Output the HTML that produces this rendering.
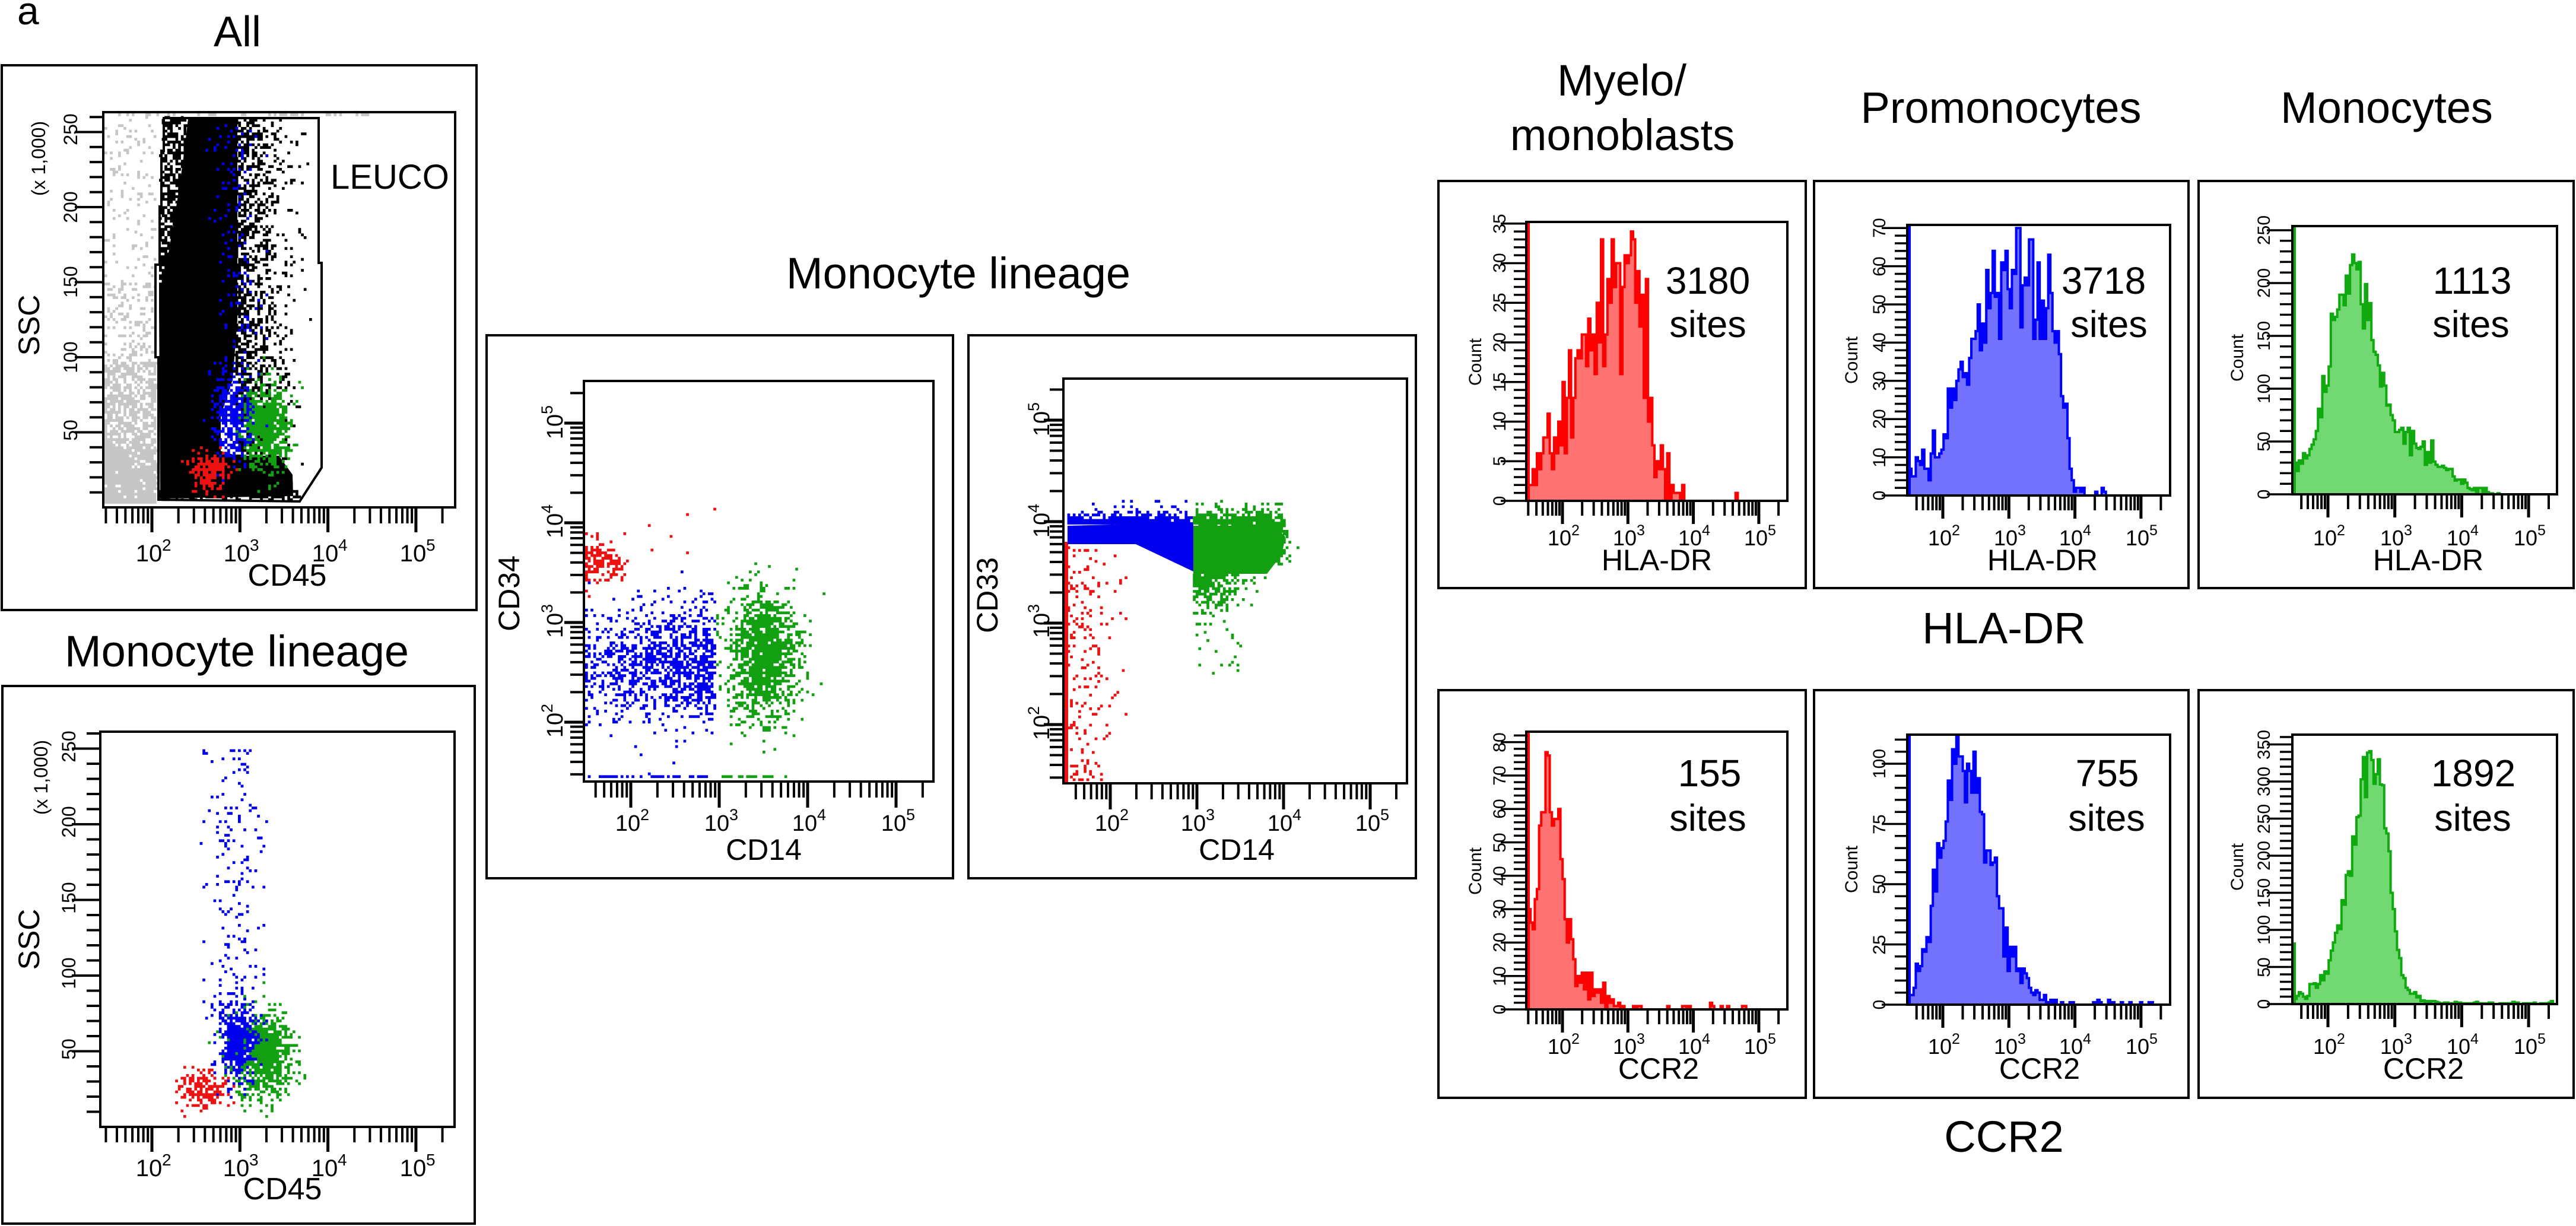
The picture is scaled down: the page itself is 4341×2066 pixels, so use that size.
<!DOCTYPE html>
<html><head><meta charset="utf-8"><title>Flow cytometry figure</title>
<style>
html,body{margin:0;padding:0;background:#fff;width:4341px;height:2066px;overflow:hidden}
svg{display:block}
text{font-family:"Liberation Sans",Arial,sans-serif;fill:#000}
</style></head><body>
<svg id="fig" width="4341" height="2066" viewBox="0 0 4341 2066" xmlns="http://www.w3.org/2000/svg">
<rect width="4341" height="2066" fill="#fff"/>
<g id="data"></g>
<polygon points="276,199 537,199 537,443 542,443 542,788 505,845 267,842 267,602 262,602 262,446 269,446 269,348 272,348 272,254 276,254" fill="none" stroke="#000" stroke-width="4"/>
<g id="ticks" stroke="#000" stroke-width="4" fill="none"></g>
<g fill="none" stroke="#000" stroke-width="4">
 <rect x="3" y="110" width="800" height="918"/>
 <rect x="4" y="1156" width="796" height="906"/>
 <rect x="820" y="565" width="786" height="915"/>
 <rect x="1632" y="565" width="754" height="915"/>
 <rect x="2424" y="305" width="619" height="686"/>
 <rect x="3057" y="305" width="631" height="686"/>
 <rect x="3705" y="305" width="632" height="686"/>
 <rect x="2424" y="1163" width="619" height="687"/>
 <rect x="3057" y="1163" width="631" height="687"/>
 <rect x="3705" y="1163" width="632" height="687"/>
 <rect x="174" y="189" width="593" height="666"/>
 <rect x="169" y="1233" width="597" height="666"/>
 <rect x="984" y="642" width="589" height="675"/>
 <rect x="1792" y="638" width="579" height="682"/>
 <rect x="2572" y="374" width="440" height="470"/>
 <rect x="3214" y="379" width="443" height="456"/>
 <rect x="3863" y="381" width="446" height="452"/>
 <rect x="2572" y="1233" width="440" height="468"/>
 <rect x="3214" y="1238" width="443" height="455"/>
 <rect x="3863" y="1238" width="446" height="454"/>
</g>

<!-- Titles -->
<text x="29" y="41" font-size="66">a</text>
<text x="400" y="78" font-size="72" text-anchor="middle">All</text>
<text x="399" y="1123" font-size="74" text-anchor="middle">Monocyte lineage</text>
<text x="1615" y="486" font-size="74" text-anchor="middle">Monocyte lineage</text>
<text x="2733" y="161" font-size="74" text-anchor="middle">Myelo/</text>
<text x="2734" y="253" font-size="74" text-anchor="middle">monoblasts</text>
<text x="3372" y="207" font-size="74" text-anchor="middle">Promonocytes</text>
<text x="4022" y="207" font-size="74" text-anchor="middle">Monocytes</text>
<text x="3377" y="1084" font-size="74" text-anchor="middle">HLA-DR</text>
<text x="3377" y="1941" font-size="74" text-anchor="middle">CCR2</text>

<!-- All panel labels -->
<text x="557" y="318" font-size="58">LEUCO</text>
<text x="484" y="987" font-size="52" text-anchor="middle">CD45</text>
<text transform="translate(66,548) rotate(-90)" font-size="50" text-anchor="middle">SSC</text>
<text transform="translate(76,267) rotate(-90)" font-size="32" text-anchor="middle">(x 1,000)</text>
<text transform="translate(130,218) rotate(-90)" font-size="32" text-anchor="middle">250</text>
<text transform="translate(130,349) rotate(-90)" font-size="32" text-anchor="middle">200</text>
<text transform="translate(130,475) rotate(-90)" font-size="32" text-anchor="middle">150</text>
<text transform="translate(130,602) rotate(-90)" font-size="32" text-anchor="middle">100</text>
<text transform="translate(130,725) rotate(-90)" font-size="32" text-anchor="middle">50</text>
<text x="251" y="946" font-size="40" text-anchor="middle">10</text><text x="273" y="928" font-size="28">2</text>
<text x="399" y="946" font-size="40" text-anchor="middle">10</text><text x="421" y="928" font-size="28">3</text>
<text x="548" y="946" font-size="40" text-anchor="middle">10</text><text x="570" y="928" font-size="28">4</text>
<text x="696" y="946" font-size="40" text-anchor="middle">10</text><text x="718" y="928" font-size="28">5</text>

<!-- Lower panel labels -->
<text x="476" y="2021" font-size="52" text-anchor="middle">CD45</text>
<text transform="translate(66,1583) rotate(-90)" font-size="50" text-anchor="middle">SSC</text>
<text transform="translate(80,1310) rotate(-90)" font-size="32" text-anchor="middle">(x 1,000)</text>
<text transform="translate(127,1258) rotate(-90)" font-size="32" text-anchor="middle">250</text>
<text transform="translate(127,1385) rotate(-90)" font-size="32" text-anchor="middle">200</text>
<text transform="translate(127,1513) rotate(-90)" font-size="32" text-anchor="middle">150</text>
<text transform="translate(127,1640) rotate(-90)" font-size="32" text-anchor="middle">100</text>
<text transform="translate(127,1768) rotate(-90)" font-size="32" text-anchor="middle">50</text>
<text x="251" y="1982" font-size="40" text-anchor="middle">10</text><text x="273" y="1964" font-size="28">2</text>
<text x="398" y="1982" font-size="40" text-anchor="middle">10</text><text x="420" y="1964" font-size="28">3</text>
<text x="547" y="1982" font-size="40" text-anchor="middle">10</text><text x="569" y="1964" font-size="28">4</text>
<text x="696" y="1982" font-size="40" text-anchor="middle">10</text><text x="718" y="1964" font-size="28">5</text>

<!-- M1 labels -->
<text x="1287" y="1449" font-size="50" text-anchor="middle">CD14</text>
<text transform="translate(875,1000) rotate(-90)" font-size="50" text-anchor="middle">CD34</text>
<g transform="translate(948,1217) rotate(-90)"><text x="-5" font-size="38" text-anchor="middle">10</text><text x="16" y="-17" font-size="27">2</text></g>
<g transform="translate(948,1049) rotate(-90)"><text x="-5" font-size="38" text-anchor="middle">10</text><text x="16" y="-17" font-size="27">3</text></g>
<g transform="translate(948,881) rotate(-90)"><text x="-5" font-size="38" text-anchor="middle">10</text><text x="16" y="-17" font-size="27">4</text></g>
<g transform="translate(948,714) rotate(-90)"><text x="-5" font-size="38" text-anchor="middle">10</text><text x="16" y="-17" font-size="27">5</text></g>
<text x="1058" y="1400" font-size="38" text-anchor="middle">10</text><text x="1079" y="1382" font-size="27">2</text>
<text x="1208" y="1400" font-size="38" text-anchor="middle">10</text><text x="1229" y="1382" font-size="27">3</text>
<text x="1356" y="1400" font-size="38" text-anchor="middle">10</text><text x="1377" y="1382" font-size="27">4</text>
<text x="1506" y="1400" font-size="38" text-anchor="middle">10</text><text x="1527" y="1382" font-size="27">5</text>

<!-- M2 labels -->
<text x="2084" y="1449" font-size="50" text-anchor="middle">CD14</text>
<text transform="translate(1681,1003) rotate(-90)" font-size="50" text-anchor="middle">CD33</text>
<g transform="translate(1768,1221) rotate(-90)"><text x="-5" font-size="38" text-anchor="middle">10</text><text x="16" y="-17" font-size="27">2</text></g>
<g transform="translate(1768,1049) rotate(-90)"><text x="-5" font-size="38" text-anchor="middle">10</text><text x="16" y="-17" font-size="27">3</text></g>
<g transform="translate(1768,880) rotate(-90)"><text x="-5" font-size="38" text-anchor="middle">10</text><text x="16" y="-17" font-size="27">4</text></g>
<g transform="translate(1768,709) rotate(-90)"><text x="-5" font-size="38" text-anchor="middle">10</text><text x="16" y="-17" font-size="27">5</text></g>
<text x="1866" y="1400" font-size="38" text-anchor="middle">10</text><text x="1887" y="1382" font-size="27">2</text>
<text x="2011" y="1400" font-size="38" text-anchor="middle">10</text><text x="2032" y="1382" font-size="27">3</text>
<text x="2157" y="1400" font-size="38" text-anchor="middle">10</text><text x="2178" y="1382" font-size="27">4</text>
<text x="2305" y="1400" font-size="38" text-anchor="middle">10</text><text x="2326" y="1382" font-size="27">5</text>

<!-- Histogram labels: top row -->
<text x="2878" y="495" font-size="64" text-anchor="middle">3180</text>
<text x="2878" y="568" font-size="63" text-anchor="middle">sites</text>
<text x="3545" y="495" font-size="64" text-anchor="middle">3718</text>
<text x="3554" y="568" font-size="63" text-anchor="middle">sites</text>
<text x="4166" y="495" font-size="64" text-anchor="middle">1113</text>
<text x="4164" y="568" font-size="63" text-anchor="middle">sites</text>
<text x="2792" y="961" font-size="50" text-anchor="middle">HLA-DR</text>
<text x="3442" y="961" font-size="50" text-anchor="middle">HLA-DR</text>
<text x="4092" y="961" font-size="50" text-anchor="middle">HLA-DR</text>
<text transform="translate(2496,610) rotate(-90)" font-size="30" text-anchor="middle">Count</text>
<text transform="translate(3130,607) rotate(-90)" font-size="30" text-anchor="middle">Count</text>
<text transform="translate(3780,603) rotate(-90)" font-size="30" text-anchor="middle">Count</text>
<g font-size="36" text-anchor="middle">
<text x="2628" y="919">10</text><text x="2738" y="919">10</text><text x="2848" y="919">10</text><text x="2959" y="919">10</text>
<text x="3269" y="919">10</text><text x="3380" y="919">10</text><text x="3490" y="919">10</text><text x="3602" y="919">10</text>
<text x="3918" y="919">10</text><text x="4031" y="919">10</text><text x="4143" y="919">10</text><text x="4256" y="919">10</text>
<text x="2628" y="1776">10</text><text x="2738" y="1776">10</text><text x="2848" y="1776">10</text><text x="2959" y="1776">10</text>
<text x="3269" y="1776">10</text><text x="3380" y="1776">10</text><text x="3490" y="1776">10</text><text x="3602" y="1776">10</text>
<text x="3918" y="1776">10</text><text x="4031" y="1776">10</text><text x="4143" y="1776">10</text><text x="4256" y="1776">10</text>
</g>
<g font-size="25">
<text x="2648" y="902">2</text><text x="2758" y="902">3</text><text x="2868" y="902">4</text><text x="2979" y="902">5</text>
<text x="3289" y="902">2</text><text x="3400" y="902">3</text><text x="3510" y="902">4</text><text x="3622" y="902">5</text>
<text x="3938" y="902">2</text><text x="4051" y="902">3</text><text x="4163" y="902">4</text><text x="4276" y="902">5</text>
<text x="2648" y="1759">2</text><text x="2758" y="1759">3</text><text x="2868" y="1759">4</text><text x="2979" y="1759">5</text>
<text x="3289" y="1759">2</text><text x="3400" y="1759">3</text><text x="3510" y="1759">4</text><text x="3622" y="1759">5</text>
<text x="3938" y="1759">2</text><text x="4051" y="1759">3</text><text x="4163" y="1759">4</text><text x="4276" y="1759">5</text>
</g>
<g font-size="30" text-anchor="middle">
<text transform="translate(2537,844) rotate(-90)">0</text>
<text transform="translate(2537,777) rotate(-90)">5</text>
<text transform="translate(2537,710) rotate(-90)">10</text>
<text transform="translate(2537,644) rotate(-90)">15</text>
<text transform="translate(2537,577) rotate(-90)">20</text>
<text transform="translate(2537,510) rotate(-90)">25</text>
<text transform="translate(2537,443) rotate(-90)">30</text>
<text transform="translate(2537,377) rotate(-90)">35</text>
<text transform="translate(3177,835) rotate(-90)">0</text>
<text transform="translate(3177,771) rotate(-90)">10</text>
<text transform="translate(3177,706) rotate(-90)">20</text>
<text transform="translate(3177,642) rotate(-90)">30</text>
<text transform="translate(3177,577) rotate(-90)">40</text>
<text transform="translate(3177,513) rotate(-90)">50</text>
<text transform="translate(3177,449) rotate(-90)">60</text>
<text transform="translate(3177,384) rotate(-90)">70</text>
<text transform="translate(3825,833) rotate(-90)">0</text>
<text transform="translate(3825,744) rotate(-90)">50</text>
<text transform="translate(3825,655) rotate(-90)">100</text>
<text transform="translate(3825,566) rotate(-90)">150</text>
<text transform="translate(3825,477) rotate(-90)">200</text>
<text transform="translate(3825,388) rotate(-90)">250</text>
</g>

<!-- Histogram labels: bottom row -->
<text x="2881" y="1325" font-size="64" text-anchor="middle">155</text>
<text x="2878" y="1400" font-size="63" text-anchor="middle">sites</text>
<text x="3551" y="1325" font-size="64" text-anchor="middle">755</text>
<text x="3550" y="1400" font-size="63" text-anchor="middle">sites</text>
<text x="4168" y="1325" font-size="64" text-anchor="middle">1892</text>
<text x="4167" y="1400" font-size="63" text-anchor="middle">sites</text>
<text x="2795" y="1818" font-size="50" text-anchor="middle">CCR2</text>
<text x="3437" y="1818" font-size="50" text-anchor="middle">CCR2</text>
<text x="4084" y="1818" font-size="50" text-anchor="middle">CCR2</text>
<text transform="translate(2496,1468) rotate(-90)" font-size="30" text-anchor="middle">Count</text>
<text transform="translate(3130,1465) rotate(-90)" font-size="30" text-anchor="middle">Count</text>
<text transform="translate(3780,1461) rotate(-90)" font-size="30" text-anchor="middle">Count</text>
<g font-size="30" text-anchor="middle">
<text transform="translate(2537,1701) rotate(-90)">0</text>
<text transform="translate(2537,1645) rotate(-90)">10</text>
<text transform="translate(2537,1588) rotate(-90)">20</text>
<text transform="translate(2537,1532) rotate(-90)">30</text>
<text transform="translate(2537,1476) rotate(-90)">40</text>
<text transform="translate(2537,1420) rotate(-90)">50</text>
<text transform="translate(2537,1363) rotate(-90)">60</text>
<text transform="translate(2537,1307) rotate(-90)">70</text>
<text transform="translate(2537,1251) rotate(-90)">80</text>
<text transform="translate(3177,1693) rotate(-90)">0</text>
<text transform="translate(3177,1592) rotate(-90)">25</text>
<text transform="translate(3177,1490) rotate(-90)">50</text>
<text transform="translate(3177,1389) rotate(-90)">75</text>
<text transform="translate(3177,1287) rotate(-90)">100</text>
<text transform="translate(3825,1692) rotate(-90)">0</text>
<text transform="translate(3825,1630) rotate(-90)">50</text>
<text transform="translate(3825,1567) rotate(-90)">100</text>
<text transform="translate(3825,1505) rotate(-90)">150</text>
<text transform="translate(3825,1442) rotate(-90)">200</text>
<text transform="translate(3825,1380) rotate(-90)">250</text>
<text transform="translate(3825,1317) rotate(-90)">300</text>
<text transform="translate(3825,1255) rotate(-90)">350</text>
</g>
</svg>
<script>
(function(){
var NS="http://www.w3.org/2000/svg";
var D=document.getElementById('data'),T=document.getElementById('ticks');
function el(t,a,p){var e=document.createElementNS(NS,t);for(var k in a)e.setAttribute(k,a[k]);p.appendChild(e);return e;}
var seed=20240611;
function R(){seed|=0;seed=seed+0x6D2B79F5|0;var t=Math.imul(seed^seed>>>15,1|seed);t=t+Math.imul(t^t>>>7,61|t)^t;return((t^t>>>14)>>>0)/4294967296;}
function N(){var u=1-R(),v=R();return Math.sqrt(-2*Math.log(u))*Math.cos(6.2831853*v);}
function U(a,b){return a+(b-a)*R();}
var RED='#ee1111',BLUE='#0000ee',GREEN='#12a012';
var G=4.6;
function L(P,c){return{P:P,c:c,d:[]};}
function add(l,x,y){var P=l.P;
 if(x<P.x0+2)x=P.x0+2;if(x>P.x1-G-2)x=P.x1-G-2;if(y<P.y0+2)y=P.y0+2;if(y>P.y1-G-2)y=P.y1-G-2;
 x=P.x0+2+Math.floor((x-P.x0-2)/G)*G;y=P.y0+2+Math.floor((y-P.y0-2)/G)*G;
 l.d.push('M'+x.toFixed(1)+' '+y.toFixed(1)+'h4.7v4.7h-4.7z');}
function draw(l){el('path',{d:l.d.join(''),fill:l.c},D);}
function poly(p,c){el('polygon',{points:p,fill:c},D);}
var i,x,y,lx;

/* ---------- All panel ---------- */
var PA={x0:174,x1:767,y0:189,y1:855};
function ax(l){return 256+148.3*(l-2);}
function ayA(s){return 855-2.53*s;}
function ayL(s){return 1899-2.55*s;}
var gr=L(PA,'#c6c6c6');
[[1200,0,40],[650,40,97],[150,97,150],[120,150,262]].forEach(function(r){for(var j=0;j<r[0];j++)add(gr,U(176,264),ayA(U(r[1],r[2])));});
for(i=0;i<35;i++)add(gr,U(176,630),190);
draw(gr);
poly('317,200 400,200 400,540 392,640 372,700 372,760 400,768 470,768 493,800 494,836 270,840 268,520 285,420 300,330 310,260','#000');
var bk=L(PA,'#000');
for(i=0;i<1450;i++){x=396+Math.abs(N())*42;if(x<522)add(bk,x,ayA(U(15,258)));}
/* speckle in the upper-left wedge between gate and core */
for(i=0;i<520;i++){y=U(199,530);var xl=276+(y<254?0:(y<348?-4:(y<446?-7:-7)));var xr=317-(y-200)*0.15;x=U(xl,Math.max(xl+6,xr+6));add(bk,x,y);}
for(i=0;i<200;i++)add(bk,U(270,505),U(826,842));
draw(bk);
var gA=L(PA,GREEN),bA=L(PA,BLUE),rA=L(PA,RED);
for(i=0;i<700;i++)add(gA,ax(3.3+0.14*N()),ayA(54+14*N()));
for(i=0;i<350;i++)add(bA,ax(2.93+0.11*N()),ayA(60+15*N()));
for(i=0;i<150;i++)add(bA,ax(2.97+0.14*N()),ayA(U(85,255)));
for(i=0;i<180;i++)add(rA,ax(2.64+0.12*N()),ayA(25+6*N()));
draw(gA);draw(bA);draw(rA);

/* ---------- Lower panel ---------- */
var PL={x0:169,x1:766,y0:1233,y1:1899};
var gL=L(PL,GREEN),bL=L(PL,BLUE),rL=L(PL,RED);
for(i=0;i<800;i++)add(gL,ax(3.27+0.17*N()),ayL(48+14*N()));
for(i=0;i<430;i++)add(bL,ax(2.97+0.11*N()),ayL(57+14*N()));
for(i=0;i<170;i++)add(bL,ax(2.95+0.17*N()),ayL(U(80,250)));
for(i=0;i<180;i++)add(rL,ax(2.6+0.13*N()),ayL(24+6*N()));
draw(gL);draw(bL);draw(rL);

/* ---------- M1: CD14 vs CD34 ---------- */
var P1={x0:984,x1:1573,y0:642,y1:1317};
function x1f(l){return 1063+149*(l-2);} function y1f(l){return 1217-168*(l-2);}
var b1=L(P1,BLUE),g1=L(P1,GREEN),r1=L(P1,RED);
for(i=0;i<1100;i++){lx=R()<0.6?2.94-Math.abs(0.6*N()):U(1.5,2.94);if(lx<1.48)lx=U(1.48,1.55);if(lx>2.94)lx=2.94;add(b1,x1f(lx),y1f(2.6+0.3*N()));}
for(i=0;i<45;i++)add(b1,U(989,1200),1317);
for(i=0;i<1300;i++){lx=3.5+0.2*N();if(lx<2.97)lx=U(2.97,3.05);add(g1,x1f(lx),y1f(2.65+0.33*N()));}
for(i=0;i<25;i++)add(g1,U(1208,1320),1317);
for(i=0;i<170;i++){lx=1.48+Math.abs(0.22*N());if(lx>2.05)continue;add(r1,x1f(lx),y1f(3.6+0.12*N()));}
[[1096,884],[1157,866],[1203,856],[1130,905],[1100,925],[1160,930]].forEach(function(p){add(r1,p[0],p[1]);});
draw(b1);draw(g1);draw(r1);

/* ---------- M2: CD14 vs CD33 ---------- */
var P2={x0:1792,x1:2371,y0:638,y1:1320};
var r2=L(P2,RED),b2=L(P2,BLUE),g2=L(P2,GREEN);
el('rect',{x:1794,y:913,width:6,height:405,fill:RED},D);
for(i=0;i<180;i++){x=1799+Math.abs(N())*38;if(x>1905)continue;add(r2,x,U(921,1316));}
for(i=0;i<8;i++)add(r2,U(1796,1835),1316);
draw(r2);
poly('1799,886 2011,880 2011,963 1914,917 1799,917',BLUE);
for(i=0;i<450;i++)add(b2,U(1799,2006),884-Math.abs(N()*9));
for(i=0;i<22;i++)add(b2,U(1810,2000),U(840,870));
draw(b2);
poly('2011,886 2150,886 2166,905 2160,935 2135,967 2011,967',GREEN);
for(i=0;i<400;i++)add(g2,U(2011,2165),888-Math.abs(N()*15));
for(i=0;i<80;i++)add(g2,2148+Math.abs(N()*12),U(886,950));
for(i=0;i<220;i++){x=2011+Math.abs(N()*45);if(x>2135)continue;add(g2,x,965+Math.abs(N()*32));}
for(i=0;i<20;i++)add(g2,U(2011,2095),U(1000,1140));
draw(g2);

/* ---------- Histograms ---------- */
function interp(env,l){if(l<=env[0][0])return env[0][1];for(var k=1;k<env.length;k++){if(l<=env[k][0]){var a=env[k-1],b=env[k];return a[1]+(b[1]-a[1])*(l-a[0])/(b[0]-a[0]);}}return env[env.length-1][1];}
function pois(m){if(m<=0)return 0;if(m>30)return Math.max(0,Math.round(m+Math.sqrt(m)*N()));var Lm=Math.exp(-m),k=0,p=1;do{k++;p*=R();}while(p>Lm);return k-1;}
function hist(H){var bw=3.6,d='M'+H.x0+' '+H.y1;
 for(var xx=H.x0;xx<H.x1-0.01;xx+=bw){var xr=Math.min(xx+bw,H.x1);var l=2+((xx+xr)/2-H.p2)/H.dec;var c=pois(interp(H.env,l));var yy=H.y1-c*H.sc;if(yy<H.y0+2)yy=H.y0+2;
  d+='L'+xx.toFixed(1)+' '+yy.toFixed(1)+'L'+xr.toFixed(1)+' '+yy.toFixed(1);}
 d+='L'+H.x1+' '+H.y1+'Z';
 el('path',{d:d,fill:H.fill},D);
 el('path',{d:d,fill:'none',stroke:H.line,'stroke-width':4,'stroke-linejoin':'miter'},D);
 el('line',{x1:H.x0+4,y1:H.y1,x2:H.x0+4,y2:H.et,stroke:H.line,'stroke-width':4},D);
}
var RF='#ff7272',BF='#7272ff',GF='#72d872',RL='#ff0000',BLn='#0000ff',GL='#10aa10';
hist({x0:2572,x1:3012,y0:374,y1:844,p2:2633,dec:110.3,sc:13.35,fill:RF,line:RL,et:376,
 env:[[1.44,3],[1.6,5],[1.9,8],[2.2,15],[2.5,21],[2.7,25],[2.9,28],[3.05,29],[3.2,24],[3.3,17],[3.4,10],[3.55,5],[3.7,2],[3.88,0.3],[4.0,0.05],[5.5,0]]});
hist({x0:3214,x1:3657,y0:379,y1:835,p2:3274,dec:111.3,sc:6.44,fill:BF,line:BLn,et:381,
 env:[[1.44,4],[1.75,9],[1.95,14],[2.17,26],[2.3,33],[2.46,42],[2.75,51],[2.97,57],[3.1,57],[3.3,54],[3.5,54],[3.62,50],[3.72,39],[3.82,26],[3.92,11],[4.0,3],[4.1,0.8],[4.5,0.5],[4.6,0]]});
hist({x0:3863,x1:4309,y0:381,y1:833,p2:3923,dec:112.7,sc:1.78,fill:GF,line:GL,et:383,
 env:[[1.45,20],[1.75,40],[1.93,90],[2.1,150],[2.27,200],[2.42,225],[2.55,190],[2.72,135],[2.89,85],[3.05,60],[3.34,48],[3.62,30],[3.9,17],[4.19,5],[4.47,0.5],[4.6,0]]});
hist({x0:2572,x1:3012,y0:1233,y1:1701,p2:2633,dec:110.3,sc:5.63,fill:RF,line:RL,et:1235,
 env:[[1.44,30],[1.55,25],[1.62,42],[1.71,62],[1.79,72],[1.88,60],[1.97,44],[2.08,24],[2.2,11],[2.37,6],[2.66,3.5],[2.9,1],[3.0,0.15],[3.6,0.25],[4.5,0.25],[5.0,0.05],[5.5,0]]});
hist({x0:3214,x1:3657,y0:1238,y1:1693,p2:3274,dec:111.3,sc:4.06,fill:BF,line:BLn,et:1240,
 env:[[1.44,3],[1.52,5],[1.66,17],[1.8,35],[1.95,62],[2.08,86],[2.17,98],[2.3,98],[2.5,90],[2.69,66],[2.83,42],[3.0,22],[3.18,12],[3.35,6],[3.49,3],[3.75,0.5],[5.5,0.3]]});
hist({x0:3863,x1:4309,y0:1238,y1:1692,p2:3923,dec:112.7,sc:1.25,fill:GF,line:GL,et:1588,
 env:[[1.46,12],[1.64,13],[1.81,25],[1.98,45],[2.15,100],[2.27,155],[2.41,240],[2.53,295],[2.64,325],[2.72,335],[2.81,300],[2.92,195],[3.03,80],[3.17,22],[3.34,8],[3.62,2],[4.0,1],[5.5,0.8]]});

/* ---------- Ticks ---------- */
function ln(x1,y1,x2,y2,w){el('line',{x1:x1,y1:y1,x2:x2,y2:y2,'stroke-width':w||4},T);}
function logX(p2,dec,x0,x1,yb,mn,mj){for(var d=0;d<=5;d++)for(var m=1;m<10;m++){var xx=p2+dec*(d-2+Math.log(m)/Math.LN10);if(xx<x0+3||xx>x1-3)continue;ln(xx,yb,xx,yb+(m==1?mj:mn),m==1?5:4);}}
function logY(p2,dec,y0,y1,xr,mn,mj){for(var d=0;d<=5;d++)for(var m=1;m<10;m++){var yy=p2-dec*(d-2+Math.log(m)/Math.LN10);if(yy<y0+3||yy>y1-3)continue;ln(xr-(m==1?mj:mn),yy,xr,yy,m==1?5:4);}}
function linY(xr,y1,y0,sc,step,major,from,mn,mj,w){for(var k=from;;k++){var v=k*step;var yy=y1-v*sc;if(yy<y0-1)break;var M=(v%major)===0;ln(xr-(M?mj:mn),yy,xr,yy,w||4);}}
logX(256,148.3,174,767,857,25,40);
linY(172,855,189,2.53,10,50,1,21,46,4);
logX(256,148.3,169,766,1901,24,40);
linY(167,1899,1233,2.55,10,50,1,21,46,4);
logX(1063,149,984,1573,1319,25,42);
logY(1217,168,642,1317,982,21,31);
logX(1871,146,1792,2371,1322,25,42);
logY(1221,171,638,1320,1790,21,31);
[[2633,110.3,2572,3012,846],[3274,111.3,3214,3657,837],[3923,112.7,3863,4309,835],
 [2633,110.3,2572,3012,1703],[3274,111.3,3214,3657,1695],[3923,112.7,3863,4309,1694]].forEach(function(a){logX(a[0],a[1],a[2],a[3],a[4],23,37);});
linY(2570,844,374,13.35,1,5,0,19,41,3.5);
linY(3212,835,379,6.44,2,10,0,19,41,3.5);
linY(3861,833,381,1.78,10,50,0,19,41,3.5);
linY(2570,1701,1233,5.63,2,10,0,19,41,3.5);
linY(3212,1693,1238,4.06,5,25,0,19,41,3.5);
linY(3861,1692,1238,1.25,10,50,0,19,41,3.5);
})();
</script>
</body></html>
